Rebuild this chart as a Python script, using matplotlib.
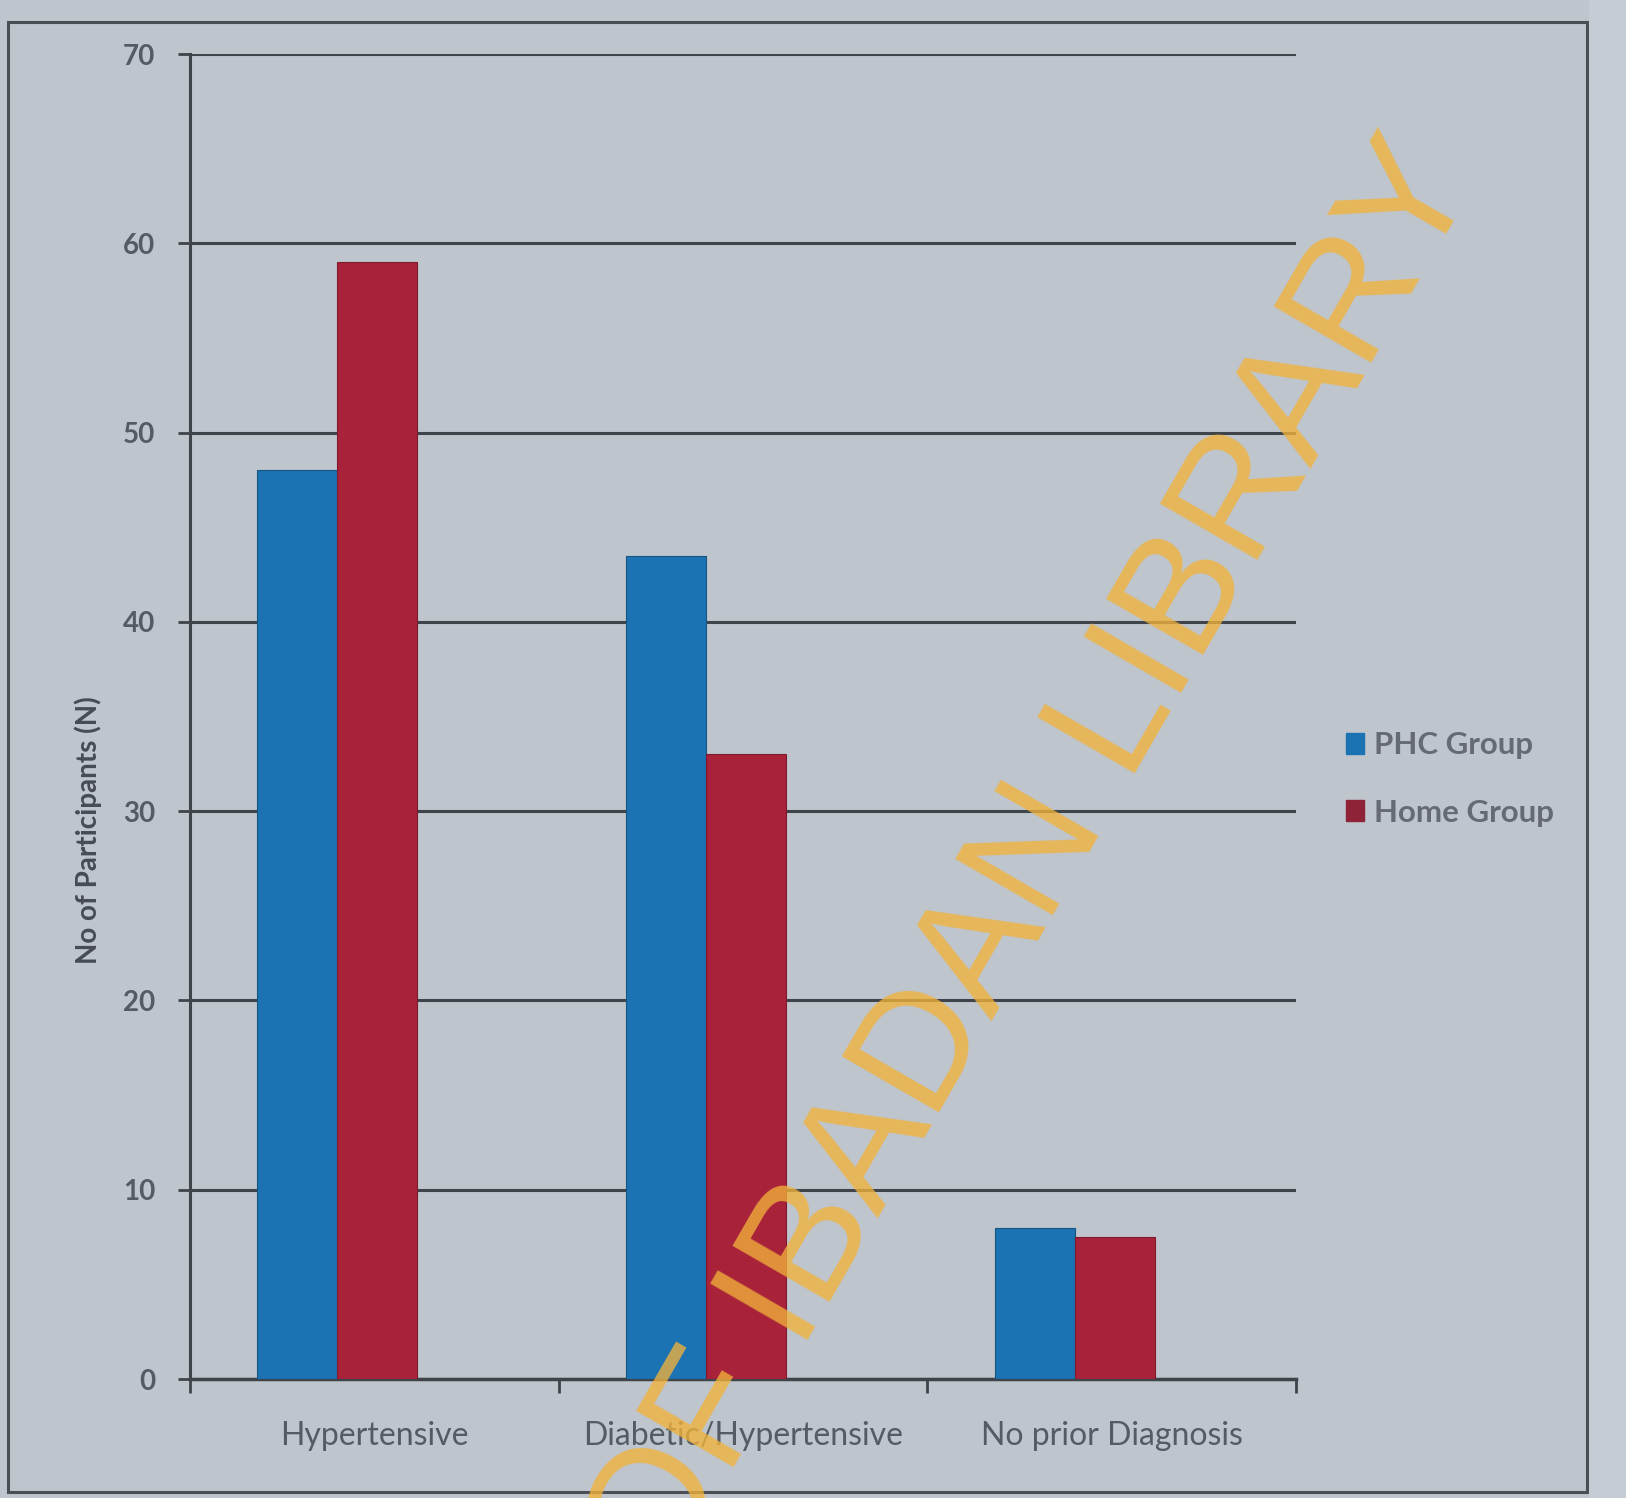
import matplotlib
matplotlib.use("Agg")
import matplotlib.pyplot as plt
from matplotlib.patches import Rectangle
import numpy as np

categories = ["Hypertensive", "Diabetic/Hypertensive", "No prior Diagnosis"]
phc_group = [48, 43.5, 8]
home_group = [59, 33, 7.5]
series_names = ["PHC Group", "Home Group"]
y_ticks = [0, 10, 20, 30, 40, 50, 60, 70]

BG = "#bec5cd"
BLUE = "#1c73b3"
RED = "#a8223a"
GRID = "#3f444a"
TXT = "#565b63"

plt.rcParams["font.family"] = ["Lato", "DejaVu Sans"]

fig = plt.figure(figsize=(16.26, 14.98), dpi=100, facecolor=BG)
W, H = 1626, 1498

# outer frame of the photographed chart
fig.patches.append(Rectangle((8 / W, 1 - 1492 / H), (1587 - 8) / W, (1492 - 22) / H,
                             transform=fig.transFigure, fill=False,
                             edgecolor="#4a4f55", lw=2.2, zorder=0))
fig.patches.append(Rectangle((1589 / W, 0), (W - 1589) / W, 1,
                             transform=fig.transFigure, facecolor="#c6ccd3",
                             edgecolor="none", zorder=0))

ax = fig.add_axes([190 / W, 1 - 1379 / H, (1296 - 190) / W, (1379 - 54) / H])
ax.set_facecolor(BG)

x = np.arange(len(categories))
w = 0.217
shift = -0.1
ax.bar(x + shift - w / 2, phc_group, width=w, color=BLUE, edgecolor="#15557f",
       linewidth=0.8, zorder=3, label=series_names[0])
ax.bar(x + shift + w / 2, home_group, width=w, color=RED, edgecolor="#7e1a2b",
       linewidth=0.8, zorder=3, label=series_names[1])

ax.set_ylim(0, 70)
ax.set_xlim(-0.5, 2.5)
ax.set_yticks(y_ticks)
ax.set_yticklabels([str(t) for t in y_ticks], fontsize=20, color=TXT, fontweight="bold")
ax.tick_params(axis="y", length=9, width=2, color=GRID, pad=16)
ax.yaxis.grid(True, color=GRID, lw=2.2, zorder=1)
ax.set_axisbelow(True)

ax.set_xticks(x)
ax.set_xticklabels(categories, fontsize=23, color=TXT)
ax.tick_params(axis="x", which="major", length=0, pad=30)
ax.set_xticks([-0.5, 0.5, 1.5, 2.5], minor=True)
ax.tick_params(axis="x", which="minor", length=10, width=2, color=GRID, direction="out")

for s in ["top", "right"]:
    ax.spines[s].set_visible(False)
ax.spines["left"].set_color(GRID)
ax.spines["left"].set_linewidth(2.2)
ax.spines["bottom"].set_color(GRID)
ax.spines["bottom"].set_linewidth(2.5)

fig.text(88 / W, 1 - 830 / H, "No of Participants (N)", rotation=90,
         ha="center", va="center", fontsize=20, fontweight="bold", color="#474c54")

handles = [Rectangle((0, 0), 1, 1, color=BLUE), Rectangle((0, 0), 1, 1, color="#8e2236")]
leg = fig.legend(handles, series_names, loc="center left",
                 bbox_to_anchor=(1333 / W, 1 - 779 / H), frameon=False,
                 fontsize=22.5, handlelength=0.6, handleheight=0.65, handletextpad=0.3,
                 labelspacing=1.25, borderaxespad=0)
for t in leg.get_texts():
    t.set_color("#666a72")
    t.set_fontweight("bold")

# library watermark
fig.text(664 / W, 1 - 1589 / H, "OF IBADAN LIBRARY", rotation=60,
         rotation_mode="anchor", ha="left", va="baseline",
         fontsize=118, family="Liberation Sans", color="#f2b23a", alpha=0.78,
         zorder=10)

fig.savefig("out.png", dpi=100, facecolor=BG)
